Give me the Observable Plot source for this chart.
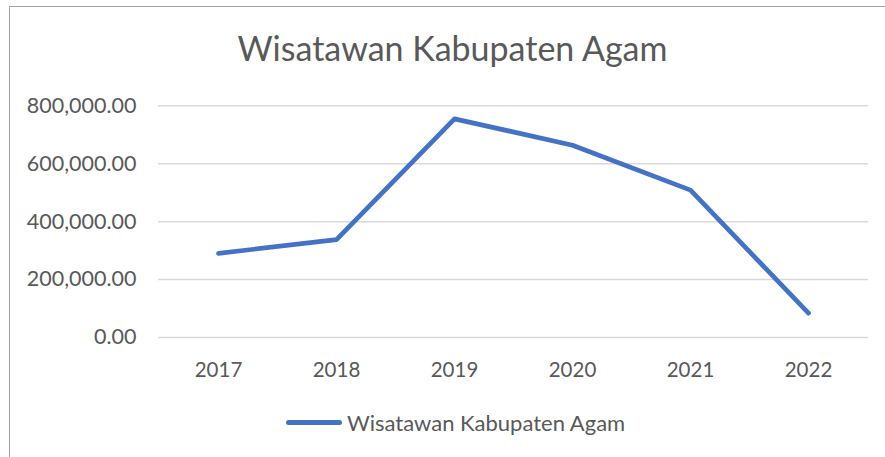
<!DOCTYPE html>
<html>
<head>
<meta charset="utf-8">
<script src="https://cdn.jsdelivr.net/npm/d3@7"></script>
<script src="https://cdn.jsdelivr.net/npm/@observablehq/plot@0.6"></script>
<style>
  html, body { margin: 0; padding: 0; background: #fff; }
  #chart { position: relative; width: 885px; height: 457px; overflow: hidden; font-family: Lato, "Open Sans", sans-serif; color: #595959; }
  #frame { position: absolute; left: 9px; top: 6px; width: 920px; height: 520px; border-left: 1.5px solid #a0a0a0; border-top: 1.5px solid #a0a0a0; }
  #title { position: absolute; left: 0; width: 905px; top: 28px; text-align: center; font-size: 34px; font-weight: 400; line-height: 40px; color: #595959; }
  #plot { position: absolute; left: 0; top: 80px; }
  #legend { position: absolute; left: 286px; top: 407px; height: 30px; display: flex; align-items: center; font-size: 22px; color: #595959; }
  #legend .swatch { width: 56px; height: 5px; border-radius: 3px; background: #4472c4; margin-right: 5px; }
</style>
</head>
<body>
<div id="chart">
  <div id="frame"></div>
  <div id="title"></div>
  <div id="plot"></div>
  <div id="legend"><span class="swatch"></span><span id="legend-label"></span></div>
</div>
<script>
const titleText = "Wisatawan Kabupaten Agam";
const seriesName = "Wisatawan Kabupaten Agam";
const years = ["2017", "2018", "2019", "2020", "2021", "2022"];
const visitors = [290500, 338000, 755000, 664000, 509000, 84000];
const yTicks = [0, 200000, 400000, 600000, 800000];

const data = years.map((y, i) => ({ year: y, value: visitors[i] }));
const fmt = d3.format(",.2f");

document.getElementById("title").textContent = titleText;
document.getElementById("legend-label").textContent = seriesName;

const chart = Plot.plot({
  width: 885,
  height: 310,
  marginLeft: 158,
  marginRight: 17,
  marginTop: 25.3,
  marginBottom: 53,
  style: { fontFamily: "Lato, 'Open Sans', sans-serif", fontSize: "20.5px", color: "#595959", background: "transparent" },
  x: { type: "point", domain: years, padding: 0.5, label: null },
  y: { domain: [0, 800000], label: null },
  marks: [
    Plot.gridY(yTicks, { stroke: "#d9d9d9", strokeOpacity: 1, strokeWidth: 1.5 }),
    Plot.axisY(yTicks, { tickSize: 0, tickPadding: 22, tickFormat: fmt, label: null, fill: "#595959", fontSize: 21.5 }),
    Plot.axisX(years, { tickSize: 0, tickPadding: 25, label: null, fill: "#595959", fontSize: 20.5 }),
    Plot.line(data, { x: "year", y: "value", stroke: "#4472c4", strokeWidth: 4.7, strokeLinecap: "round", strokeLinejoin: "round" })
  ]
});
document.getElementById("plot").appendChild(chart);
</script>
</body>
</html>
